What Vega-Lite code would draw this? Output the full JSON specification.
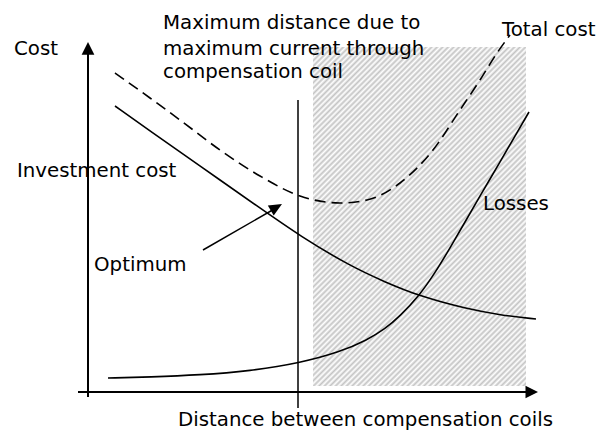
{
  "$schema": "https://vega.github.io/schema/vega-lite/v6.json",
  "width": 601,
  "height": 430,
  "padding": 0,
  "autosize": {"type": "fit", "contains": "padding"},
  "background": "white",
  "config": {"view": {"stroke": null}},
  "datasets": {
    "curves": [
      {"curve": "Investment cost", "d": 2.7, "c": 28.6},
      {"curve": "Investment cost", "d": 6.2, "c": 26.1},
      {"curve": "Investment cost", "d": 11.2, "c": 22.6},
      {"curve": "Investment cost", "d": 17.2, "c": 18.4},
      {"curve": "Investment cost", "d": 21.2, "c": 15.6},
      {"curve": "Investment cost", "d": 26.2, "c": 12.6},
      {"curve": "Investment cost", "d": 29.7, "c": 11.0},
      {"curve": "Investment cost", "d": 33.1, "c": 9.6},
      {"curve": "Investment cost", "d": 37.9, "c": 8.3},
      {"curve": "Investment cost", "d": 41.2, "c": 7.7},
      {"curve": "Investment cost", "d": 44.8, "c": 7.3},
      {"curve": "Losses", "d": 2.0, "c": 1.4},
      {"curve": "Losses", "d": 6.2, "c": 1.5},
      {"curve": "Losses", "d": 11.2, "c": 1.7},
      {"curve": "Losses", "d": 16.2, "c": 2.1},
      {"curve": "Losses", "d": 21.2, "c": 2.9},
      {"curve": "Losses", "d": 25.2, "c": 4.0},
      {"curve": "Losses", "d": 27.9, "c": 5.2},
      {"curve": "Losses", "d": 29.7, "c": 6.3},
      {"curve": "Losses", "d": 31.2, "c": 7.6},
      {"curve": "Losses", "d": 33.1, "c": 9.6},
      {"curve": "Losses", "d": 34.7, "c": 11.9},
      {"curve": "Losses", "d": 36.2, "c": 14.4},
      {"curve": "Losses", "d": 37.7, "c": 17.0},
      {"curve": "Losses", "d": 39.2, "c": 19.6},
      {"curve": "Losses", "d": 41.2, "c": 23.0},
      {"curve": "Losses", "d": 42.7, "c": 25.6},
      {"curve": "Losses", "d": 44.1, "c": 28.0},
      {"curve": "Total cost", "d": 2.7, "c": 31.9},
      {"curve": "Total cost", "d": 6.2, "c": 29.4},
      {"curve": "Total cost", "d": 9.2, "c": 27.2},
      {"curve": "Total cost", "d": 13.2, "c": 24.2},
      {"curve": "Total cost", "d": 17.2, "c": 21.6},
      {"curve": "Total cost", "d": 21.2, "c": 19.6},
      {"curve": "Total cost", "d": 25.2, "c": 18.9},
      {"curve": "Total cost", "d": 27.9, "c": 19.2},
      {"curve": "Total cost", "d": 31.2, "c": 20.9},
      {"curve": "Total cost", "d": 34.5, "c": 24.2},
      {"curve": "Total cost", "d": 37.2, "c": 28.2},
      {"curve": "Total cost", "d": 39.2, "c": 31.2},
      {"curve": "Total cost", "d": 40.9, "c": 33.9},
      {"curve": "Total cost", "d": 42.2, "c": 35.7}
    ],
    "labels": [
      {"label": "Cost", "d": -7.4, "c": 33.7},
      {"label": "Maximum distance due to", "d": 7.5, "c": 36.3},
      {"label": "maximum current through", "d": 7.5, "c": 33.7},
      {"label": "compensation coil", "d": 7.5, "c": 31.4},
      {"label": "Total cost", "d": 41.4, "c": 35.6},
      {"label": "Investment cost", "d": -7.1, "c": 21.5},
      {"label": "Losses", "d": 39.5, "c": 18.2},
      {"label": "Optimum", "d": 0.6, "c": 12.1},
      {"label": "Distance between compensation coils", "d": 9.0, "c": -3.4}
    ]
  },
  "encoding": {
    "x": {"field": "d", "type": "quantitative", "scale": {"domain": [-8.8, 51.3], "nice": false, "zero": false}, "axis": null},
    "y": {"field": "c", "type": "quantitative", "scale": {"domain": [-3.8, 39.2], "nice": false, "zero": false}, "axis": null}
  },
  "layer": [
    {
      "data": {"values": [{"region": "current limit exceeded", "d": 22.5, "d2": 43.8, "c": 34.5, "c2": 0.6}]},
      "mark": {
        "type": "rect",
        "strokeWidth": 0,
        "fill": {
          "gradient": "linear", "x1": 0, "y1": 0, "x2": 0.7335, "y2": 1.1675,
          "stops": [
            {"offset": 0, "color": "#fff"}, {"offset": 0.005, "color": "#c4c4c4"}, {"offset": 0.01, "color": "#fff"}, {"offset": 0.015, "color": "#c4c4c4"}, {"offset": 0.02, "color": "#fff"}, {"offset": 0.025, "color": "#c4c4c4"}, {"offset": 0.03, "color": "#fff"}, {"offset": 0.035, "color": "#c4c4c4"}, {"offset": 0.04, "color": "#fff"}, {"offset": 0.045, "color": "#c4c4c4"},
            {"offset": 0.05, "color": "#fff"}, {"offset": 0.055, "color": "#c4c4c4"}, {"offset": 0.06, "color": "#fff"}, {"offset": 0.065, "color": "#c4c4c4"}, {"offset": 0.07, "color": "#fff"}, {"offset": 0.075, "color": "#c4c4c4"}, {"offset": 0.08, "color": "#fff"}, {"offset": 0.085, "color": "#c4c4c4"}, {"offset": 0.09, "color": "#fff"}, {"offset": 0.095, "color": "#c4c4c4"},
            {"offset": 0.1, "color": "#fff"}, {"offset": 0.105, "color": "#c4c4c4"}, {"offset": 0.11, "color": "#fff"}, {"offset": 0.115, "color": "#c4c4c4"}, {"offset": 0.12, "color": "#fff"}, {"offset": 0.125, "color": "#c4c4c4"}, {"offset": 0.13, "color": "#fff"}, {"offset": 0.135, "color": "#c4c4c4"}, {"offset": 0.14, "color": "#fff"}, {"offset": 0.145, "color": "#c4c4c4"},
            {"offset": 0.15, "color": "#fff"}, {"offset": 0.155, "color": "#c4c4c4"}, {"offset": 0.16, "color": "#fff"}, {"offset": 0.165, "color": "#c4c4c4"}, {"offset": 0.17, "color": "#fff"}, {"offset": 0.175, "color": "#c4c4c4"}, {"offset": 0.18, "color": "#fff"}, {"offset": 0.185, "color": "#c4c4c4"}, {"offset": 0.19, "color": "#fff"}, {"offset": 0.195, "color": "#c4c4c4"},
            {"offset": 0.2, "color": "#fff"}, {"offset": 0.205, "color": "#c4c4c4"}, {"offset": 0.21, "color": "#fff"}, {"offset": 0.215, "color": "#c4c4c4"}, {"offset": 0.22, "color": "#fff"}, {"offset": 0.225, "color": "#c4c4c4"}, {"offset": 0.23, "color": "#fff"}, {"offset": 0.235, "color": "#c4c4c4"}, {"offset": 0.24, "color": "#fff"}, {"offset": 0.245, "color": "#c4c4c4"},
            {"offset": 0.25, "color": "#fff"}, {"offset": 0.255, "color": "#c4c4c4"}, {"offset": 0.26, "color": "#fff"}, {"offset": 0.265, "color": "#c4c4c4"}, {"offset": 0.27, "color": "#fff"}, {"offset": 0.275, "color": "#c4c4c4"}, {"offset": 0.28, "color": "#fff"}, {"offset": 0.285, "color": "#c4c4c4"}, {"offset": 0.29, "color": "#fff"}, {"offset": 0.295, "color": "#c4c4c4"},
            {"offset": 0.3, "color": "#fff"}, {"offset": 0.305, "color": "#c4c4c4"}, {"offset": 0.31, "color": "#fff"}, {"offset": 0.315, "color": "#c4c4c4"}, {"offset": 0.32, "color": "#fff"}, {"offset": 0.325, "color": "#c4c4c4"}, {"offset": 0.33, "color": "#fff"}, {"offset": 0.335, "color": "#c4c4c4"}, {"offset": 0.34, "color": "#fff"}, {"offset": 0.345, "color": "#c4c4c4"},
            {"offset": 0.35, "color": "#fff"}, {"offset": 0.355, "color": "#c4c4c4"}, {"offset": 0.36, "color": "#fff"}, {"offset": 0.365, "color": "#c4c4c4"}, {"offset": 0.37, "color": "#fff"}, {"offset": 0.375, "color": "#c4c4c4"}, {"offset": 0.38, "color": "#fff"}, {"offset": 0.385, "color": "#c4c4c4"}, {"offset": 0.39, "color": "#fff"}, {"offset": 0.395, "color": "#c4c4c4"},
            {"offset": 0.4, "color": "#fff"}, {"offset": 0.405, "color": "#c4c4c4"}, {"offset": 0.41, "color": "#fff"}, {"offset": 0.415, "color": "#c4c4c4"}, {"offset": 0.42, "color": "#fff"}, {"offset": 0.425, "color": "#c4c4c4"}, {"offset": 0.43, "color": "#fff"}, {"offset": 0.435, "color": "#c4c4c4"}, {"offset": 0.44, "color": "#fff"}, {"offset": 0.445, "color": "#c4c4c4"},
            {"offset": 0.45, "color": "#fff"}, {"offset": 0.455, "color": "#c4c4c4"}, {"offset": 0.46, "color": "#fff"}, {"offset": 0.465, "color": "#c4c4c4"}, {"offset": 0.47, "color": "#fff"}, {"offset": 0.475, "color": "#c4c4c4"}, {"offset": 0.48, "color": "#fff"}, {"offset": 0.485, "color": "#c4c4c4"}, {"offset": 0.49, "color": "#fff"}, {"offset": 0.495, "color": "#c4c4c4"},
            {"offset": 0.5, "color": "#fff"}, {"offset": 0.505, "color": "#c4c4c4"}, {"offset": 0.51, "color": "#fff"}, {"offset": 0.515, "color": "#c4c4c4"}, {"offset": 0.52, "color": "#fff"}, {"offset": 0.525, "color": "#c4c4c4"}, {"offset": 0.53, "color": "#fff"}, {"offset": 0.535, "color": "#c4c4c4"}, {"offset": 0.54, "color": "#fff"}, {"offset": 0.545, "color": "#c4c4c4"},
            {"offset": 0.55, "color": "#fff"}, {"offset": 0.555, "color": "#c4c4c4"}, {"offset": 0.56, "color": "#fff"}, {"offset": 0.565, "color": "#c4c4c4"}, {"offset": 0.57, "color": "#fff"}, {"offset": 0.575, "color": "#c4c4c4"}, {"offset": 0.58, "color": "#fff"}, {"offset": 0.585, "color": "#c4c4c4"}, {"offset": 0.59, "color": "#fff"}, {"offset": 0.595, "color": "#c4c4c4"},
            {"offset": 0.6, "color": "#fff"}, {"offset": 0.605, "color": "#c4c4c4"}, {"offset": 0.61, "color": "#fff"}, {"offset": 0.615, "color": "#c4c4c4"}, {"offset": 0.62, "color": "#fff"}, {"offset": 0.625, "color": "#c4c4c4"}, {"offset": 0.63, "color": "#fff"}, {"offset": 0.635, "color": "#c4c4c4"}, {"offset": 0.64, "color": "#fff"}, {"offset": 0.645, "color": "#c4c4c4"},
            {"offset": 0.65, "color": "#fff"}, {"offset": 0.655, "color": "#c4c4c4"}, {"offset": 0.66, "color": "#fff"}, {"offset": 0.665, "color": "#c4c4c4"}, {"offset": 0.67, "color": "#fff"}, {"offset": 0.675, "color": "#c4c4c4"}, {"offset": 0.68, "color": "#fff"}, {"offset": 0.685, "color": "#c4c4c4"}, {"offset": 0.69, "color": "#fff"}, {"offset": 0.695, "color": "#c4c4c4"},
            {"offset": 0.7, "color": "#fff"}, {"offset": 0.705, "color": "#c4c4c4"}, {"offset": 0.71, "color": "#fff"}, {"offset": 0.715, "color": "#c4c4c4"}, {"offset": 0.72, "color": "#fff"}, {"offset": 0.725, "color": "#c4c4c4"}, {"offset": 0.73, "color": "#fff"}, {"offset": 0.735, "color": "#c4c4c4"}, {"offset": 0.74, "color": "#fff"}, {"offset": 0.745, "color": "#c4c4c4"},
            {"offset": 0.75, "color": "#fff"}, {"offset": 0.755, "color": "#c4c4c4"}, {"offset": 0.76, "color": "#fff"}, {"offset": 0.765, "color": "#c4c4c4"}, {"offset": 0.77, "color": "#fff"}, {"offset": 0.775, "color": "#c4c4c4"}, {"offset": 0.78, "color": "#fff"}, {"offset": 0.785, "color": "#c4c4c4"}, {"offset": 0.79, "color": "#fff"}, {"offset": 0.795, "color": "#c4c4c4"},
            {"offset": 0.8, "color": "#fff"}, {"offset": 0.805, "color": "#c4c4c4"}, {"offset": 0.81, "color": "#fff"}, {"offset": 0.815, "color": "#c4c4c4"}, {"offset": 0.82, "color": "#fff"}, {"offset": 0.825, "color": "#c4c4c4"}, {"offset": 0.83, "color": "#fff"}, {"offset": 0.835, "color": "#c4c4c4"}, {"offset": 0.84, "color": "#fff"}, {"offset": 0.845, "color": "#c4c4c4"},
            {"offset": 0.85, "color": "#fff"}, {"offset": 0.855, "color": "#c4c4c4"}, {"offset": 0.86, "color": "#fff"}, {"offset": 0.865, "color": "#c4c4c4"}, {"offset": 0.87, "color": "#fff"}, {"offset": 0.875, "color": "#c4c4c4"}, {"offset": 0.88, "color": "#fff"}, {"offset": 0.885, "color": "#c4c4c4"}, {"offset": 0.89, "color": "#fff"}, {"offset": 0.895, "color": "#c4c4c4"},
            {"offset": 0.9, "color": "#fff"}, {"offset": 0.905, "color": "#c4c4c4"}, {"offset": 0.91, "color": "#fff"}, {"offset": 0.915, "color": "#c4c4c4"}, {"offset": 0.92, "color": "#fff"}, {"offset": 0.925, "color": "#c4c4c4"}, {"offset": 0.93, "color": "#fff"}, {"offset": 0.935, "color": "#c4c4c4"}, {"offset": 0.94, "color": "#fff"}, {"offset": 0.945, "color": "#c4c4c4"},
            {"offset": 0.95, "color": "#fff"}, {"offset": 0.955, "color": "#c4c4c4"}, {"offset": 0.96, "color": "#fff"}, {"offset": 0.965, "color": "#c4c4c4"}, {"offset": 0.97, "color": "#fff"}, {"offset": 0.975, "color": "#c4c4c4"}, {"offset": 0.98, "color": "#fff"}, {"offset": 0.985, "color": "#c4c4c4"}, {"offset": 0.99, "color": "#fff"}, {"offset": 0.995, "color": "#c4c4c4"},
            {"offset": 1, "color": "#fff"}
          ]
        }
      },
      "encoding": {
        "x2": {"field": "d2"},
        "y2": {"field": "c2"}
      }
    },
    {
      "data": {"values": [
        {"part": "cost axis", "d": 0, "c": -0.5, "d2": 0, "c2": 34.0},
        {"part": "distance axis", "d": -1.0, "c": 0, "d2": 44.0, "c2": 0}
      ]},
      "mark": {"type": "rule", "color": "black", "strokeWidth": 2},
      "encoding": {"x2": {"field": "d2"}, "y2": {"field": "c2"}}
    },
    {
      "data": {"values": [{"part": "maximum distance", "d": 21.0, "c": -1.6, "d2": 21.0, "c2": 29.2}]},
      "mark": {"type": "rule", "color": "black", "strokeWidth": 1.5},
      "encoding": {"x2": {"field": "d2"}, "y2": {"field": "c2"}}
    },
    {
      "data": {"values": [{"part": "optimum pointer", "d": 11.5, "c": 14.2, "d2": 18.8, "c2": 18.4}]},
      "mark": {"type": "rule", "color": "black", "strokeWidth": 1.5},
      "encoding": {"x2": {"field": "d2"}, "y2": {"field": "c2"}}
    },
    {
      "data": {"values": [{"part": "cost arrow", "d": 0, "c": 35.0}]},
      "mark": {"type": "point", "shape": "M0,0L0.5,1L-0.5,1Z", "size": 645, "filled": true, "color": "black", "opacity": 1, "strokeWidth": 0},
      "encoding": {}
    },
    {
      "data": {"values": [{"part": "distance arrow", "d": 45.0, "c": 0}]},
      "mark": {"type": "point", "shape": "M0,0L-1,-0.5L-1,0.5Z", "size": 625, "filled": true, "color": "black", "opacity": 1, "strokeWidth": 0},
      "encoding": {}
    },
    {
      "data": {"values": [{"part": "optimum arrow", "d": 19.4, "c": 18.8}]},
      "mark": {"type": "point", "shape": "M0,0L-1,-0.45L-1,0.45Z", "size": 676, "angle": 329.8, "filled": true, "color": "black", "opacity": 1, "strokeWidth": 0},
      "encoding": {}
    },
    {
      "data": {"name": "curves"},
      "transform": [{"filter": "datum.curve === 'Investment cost'"}],
      "mark": {"type": "line", "color": "black", "strokeWidth": 1.6, "interpolate": "basis"},
      "encoding": {"order": {"field": "d", "type": "quantitative"}}
    },
    {
      "data": {"name": "curves"},
      "transform": [{"filter": "datum.curve === 'Losses'"}],
      "mark": {"type": "line", "color": "black", "strokeWidth": 1.6, "interpolate": "basis"},
      "encoding": {"order": {"field": "d", "type": "quantitative"}}
    },
    {
      "data": {"name": "curves"},
      "transform": [{"filter": "datum.curve === 'Total cost'"}],
      "mark": {"type": "line", "color": "black", "strokeWidth": 1.6, "strokeDash": [11, 6], "interpolate": "monotone"},
      "encoding": {"order": {"field": "d", "type": "quantitative"}}
    },
    {
      "data": {"name": "labels"},
      "mark": {"type": "text", "align": "left", "baseline": "alphabetic", "font": "DejaVu Sans", "fontSize": 19.8, "color": "black"},
      "encoding": {"text": {"field": "label"}}
    }
  ]
}
